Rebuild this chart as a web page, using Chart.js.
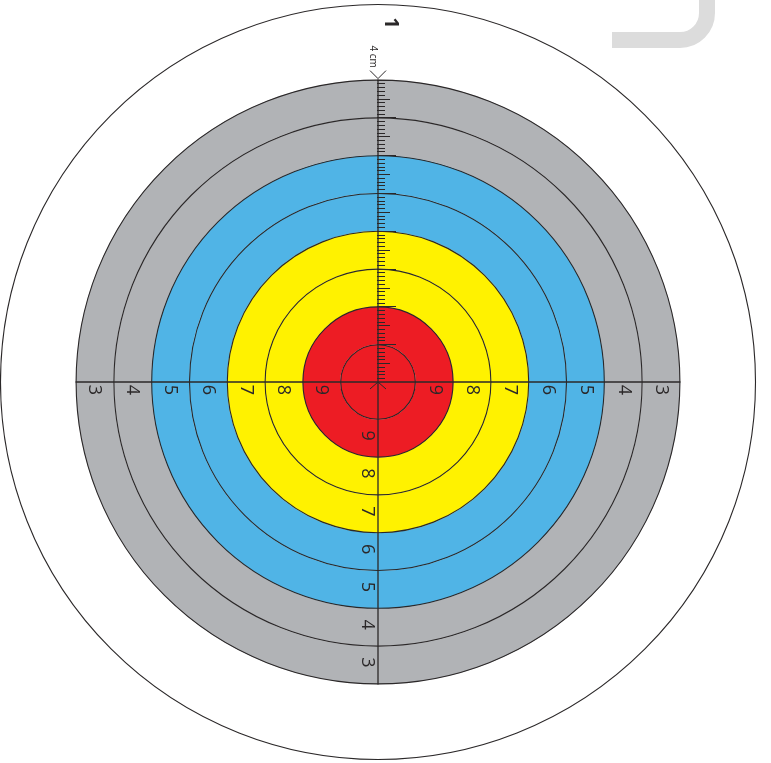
<!DOCTYPE html>
<html>
<head>
<meta charset="utf-8">
<script src="https://cdn.jsdelivr.net/npm/chart.js@4/dist/chart.umd.min.js"></script>
<style>
  html, body { margin: 0; padding: 0; background: #fff; }
  #wrap { width: 771px; height: 763px; position: relative; }
</style>
</head>
<body>
<div id="wrap"><canvas id="target"></canvas></div>
<script>
// rings from the outside in; the white zone holds scores 1 and 2 with no line between them
const ringScores = ['1', '3', '4', '5', '6', '7', '8', '9', '10'];
const ringWeights = [2, 1, 1, 1, 1, 1, 1, 1, 1];
const ringColors = ['#ffffff', '#b1b3b6', '#b1b3b6', '#50b4e6', '#50b4e6', '#fff200', '#fff200', '#ed1c24', '#ed1c24'];
const axisLabels = ['3', '4', '5', '6', '7', '8', '9'];
const topLabel = '1';
const rulerUnit = '4 cm';
const ticksPerRing = 10;

const INK = '#2b2829';

// ring outlines, crosshair, ruler, score numbers
const targetMarks = {
  id: 'targetMarks',
  afterDatasetsDraw(chart) {
    const ctx = chart.ctx;
    const rings = chart.data.datasets.map((_, i) => chart.getDatasetMeta(i).data[0]);
    const cx = rings[0].x;
    const cy = rings[0].y;
    const edge = rings[1].outerRadius; // outer edge of the gray zone
    const step = rings[1].outerRadius - rings[1].innerRadius;

    ctx.save();
    ctx.strokeStyle = INK;

    // ring outlines (drawn here so the arcs get no seam line)
    ctx.lineWidth = 1.1;
    rings.forEach((arc) => {
      ctx.beginPath();
      ctx.arc(cx, cy, arc.outerRadius - 0.5, 0, Math.PI * 2);
      ctx.stroke();
    });

    // cross lines
    ctx.lineWidth = 1.3;
    ctx.beginPath();
    ctx.moveTo(cx - edge, cy);
    ctx.lineTo(cx + edge, cy);
    ctx.moveTo(cx, cy - edge);
    ctx.lineTo(cx, cy + edge);
    ctx.stroke();

    // ruler ticks on the upper half of the vertical line
    ctx.lineWidth = 1.2;
    ctx.beginPath();
    for (let i = 1; i < rings.length; i++) {
      const r0 = rings[i].innerRadius;
      const r1 = rings[i].outerRadius;
      for (let j = 0; j < ticksPerRing; j++) {
        if (i === rings.length - 1 && j === 0) continue;
        const r = r0 + (r1 - r0) * j / ticksPerRing;
        const len = j === 0 ? 18 : (j === ticksPerRing / 2 ? 12 : 7);
        const y = Math.round(cy - r) + 0.5;
        ctx.moveTo(cx - 1, y);
        ctx.lineTo(cx + len, y);
      }
    }
    const yTop = Math.round(cy - edge) + 0.5;
    ctx.moveTo(cx - 1, yTop);
    ctx.lineTo(cx + 18, yTop);
    ctx.stroke();

    // arrow marks at both ends of the ruler
    ctx.lineWidth = 1;
    ctx.beginPath();
    ctx.moveTo(cx - 8, cy - edge - 9);
    ctx.lineTo(cx, cy - edge - 1);
    ctx.lineTo(cx + 8, cy - edge - 9);
    ctx.moveTo(cx - 8, cy + 7);
    ctx.lineTo(cx, cy);
    ctx.lineTo(cx + 8, cy + 7);
    ctx.stroke();

    // score numbers, turned a quarter turn clockwise
    const drawTurned = (text, x, y, font) => {
      ctx.save();
      ctx.translate(x, y);
      ctx.rotate(Math.PI / 2);
      ctx.font = font;
      ctx.fillStyle = INK;
      ctx.textAlign = 'center';
      ctx.textBaseline = 'middle';
      ctx.fillText(text, 0, 0);
      ctx.restore();
    };
    const numFont = '18px "Open Sans", sans-serif';
    axisLabels.forEach((label) => {
      const idx = ringScores.indexOf(label);
      const m = (rings[idx].innerRadius + rings[idx].outerRadius) / 2;
      drawTurned(label, cx - m, cy + 8, numFont);
      drawTurned(label, cx + m, cy + 8, numFont);
      drawTurned(label, cx - 11, cy + m - 3, numFont);
    });

    const mTop = rings[0].outerRadius - step / 2;
    drawTurned(topLabel, cx + 13, cy - mTop, 'bold 20px "Open Sans", sans-serif');
    drawTurned(rulerUnit, cx - 5, cy - edge - 23, '10px "Open Sans", sans-serif');

    // light gray corner mark from the page
    const W = chart.width;
    ctx.strokeStyle = '#dcdcdc';
    ctx.lineWidth = 16;
    ctx.lineCap = 'butt';
    ctx.beginPath();
    ctx.moveTo(W - 159, 40);
    ctx.lineTo(W - 91, 40);
    ctx.arc(W - 91, 13, 27, Math.PI / 2, 0, true);
    ctx.lineTo(W - 64, -5);
    ctx.stroke();

    ctx.restore();
  }
};

new Chart(document.getElementById('target'), {
  type: 'doughnut',
  data: {
    labels: ['ring'],
    datasets: ringScores.map((score, i) => ({
      label: 'score ' + score,
      data: [1],
      weight: ringWeights[i],
      backgroundColor: ringColors[i],
      borderWidth: 0,
      hoverOffset: 0,
      offset: 0
    }))
  },
  options: {
    responsive: true,
    maintainAspectRatio: false,
    animation: false,
    events: [],
    cutout: 0,
    layout: { padding: { left: 0, right: 15, top: 4, bottom: 3 } },
    plugins: { legend: { display: false }, tooltip: { enabled: false } }
  },
  plugins: [targetMarks]
});
</script>
</body>
</html>
